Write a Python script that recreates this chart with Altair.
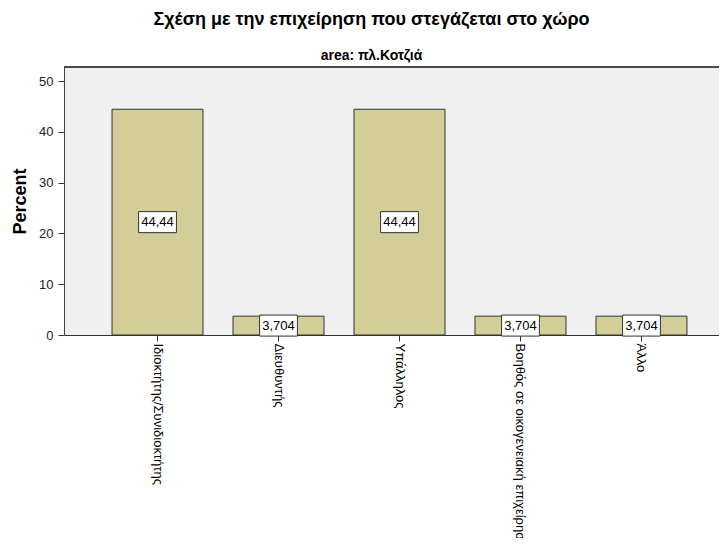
import altair as alt
import pandas as pd

categories = ["Ιδιοκτήτης/Συνιδιοκτήτης", "Διευθυντής", "Υπάλληλος",
              "Βοηθός σε οικογενειακή επιχείρηση", "Άλλο"]
percents = [44.44, 3.704, 44.44, 3.704, 3.704]
labels = ["44,44", "3,704", "44,44", "3,704", "3,704"]
y_ticks = [0, 10, 20, 30, 40, 50]
y_max = 52.76

df = pd.DataFrame({"cat": categories, "pct": percents, "label": labels})

FONT = "Liberation Sans"

x_enc = alt.X(
    "cat:N", sort=categories, title=None,
    scale=alt.Scale(range=[0, 671], paddingInner=0.248, paddingOuter=0.397),
    axis=alt.Axis(labelAngle=90, labelAlign="left", labelBaseline="middle",
                  labelFontSize=13, labelColor="#000", labelFont=FONT,
                  labelLimit=0, labelPadding=2, tickSize=6, tickColor="#333",
                  domainColor="#333"),
)

y_scale = alt.Scale(domain=[0, y_max], nice=False)

bars = alt.Chart(df).mark_bar(fill="#D3CE97", stroke="#333", strokeWidth=1).encode(
    x=x_enc,
    y=alt.Y("pct:Q", title="Percent", scale=y_scale,
            axis=alt.Axis(values=y_ticks, grid=False, tickSize=6, tickColor="#333",
                          labelFontSize=13, labelColor="#222", labelFont=FONT,
                          labelPadding=5, domainColor="#444",
                          titleFontSize=18, titleFontWeight="bold", titleFont=FONT,
                          titleColor="#000", titlePadding=9)),
)

top_border = alt.Chart(df).mark_rule(color="#444", strokeWidth=1).encode(
    y=alt.datum(y_max, scale=y_scale)
)

base = alt.Chart(df).transform_calculate(mid="datum.pct / 2")

boxes = base.mark_point(
    shape="M-1.8,-1L1.8,-1L1.8,1L-1.8,1Z", size=441, filled=True,
    fill="white", stroke="#333", strokeWidth=1, opacity=1,
).encode(x=x_enc, y=alt.Y("mid:Q", scale=y_scale))

texts = base.mark_text(fontSize=13, color="#000", font=FONT).encode(
    x=x_enc, y=alt.Y("mid:Q", scale=y_scale), text="label:N"
)

chart = alt.layer(bars, top_border, boxes, texts).properties(
    width=663, height=268,
    title=alt.Title(
        "Σχέση με την επιχείρηση που στεγάζεται στο χώρο",
        subtitle="area: πλ.Κοτζιά",
        fontSize=18, font=FONT, fontWeight="bold", color="#000",
        subtitleFontSize=14, subtitleFont=FONT, subtitleFontWeight="bold",
        subtitleColor="#000", anchor="middle", dx=-24, offset=4, subtitlePadding=20,
    ),
    autosize=alt.AutoSizeParams(type="none"),
    padding={"left": 56, "top": 59, "right": -8, "bottom": 203},
).configure_view(fill="#F0F0F0", stroke=None)

chart.save("out.html", embed_options={"renderer": "svg", "actions": False})
